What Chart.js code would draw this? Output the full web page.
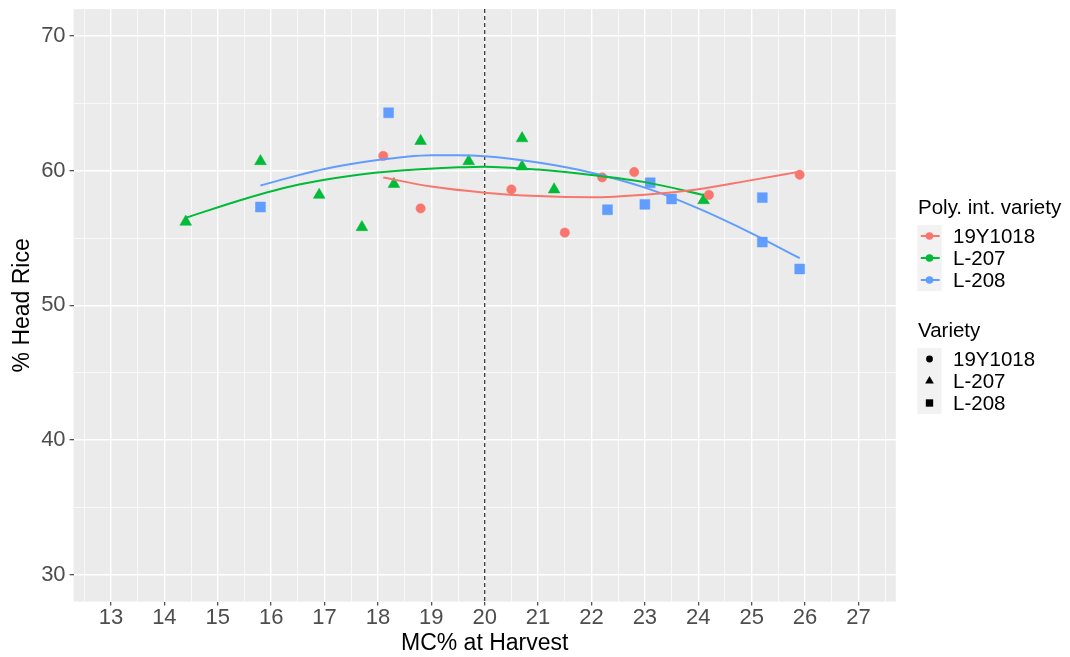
<!DOCTYPE html>
<html>
<head>
<meta charset="utf-8">
<title>Head rice vs. harvest moisture</title>
<script src="https://cdn.jsdelivr.net/npm/chart.js@4.4.1/dist/chart.umd.min.js"></script>
<style>
  html, body { margin: 0; padding: 0; background: #ffffff; }
  #wrap { width: 1070px; height: 657px; position: relative; }
</style>
</head>
<body>
<div id="wrap"><canvas id="chart"></canvas></div>
<script>
// ---- axis tick labels ----
const mcTicks = [13, 14, 15, 16, 17, 18, 19, 20, 21, 22, 23, 24, 25, 26, 27];
const hrTicks = [30, 40, 50, 60, 70];

// ---- varieties ----
const varieties = ['19Y1018', 'L-207', 'L-208'];
const varietyColors = ['#F8766D', '#00BA38', '#619CFF'];
const varietyShapes = ['circle', 'triangle', 'rect'];

// ---- observed head rice (%) by harvest moisture (%) ----
const mc19Y1018 = [18.1, 18.8, 20.5, 21.5, 22.2, 22.8, 24.2, 25.9];
const hr19Y1018 = [61.1, 57.2, 58.6, 55.4, 59.5, 59.9, 58.2, 59.7];

const mcL207 = [14.4, 15.8, 16.9, 17.7, 18.3, 18.8, 19.7, 20.7, 20.7, 21.3, 24.1];
const hrL207 = [56.2, 60.7, 58.2, 55.8, 59.0, 62.2, 60.7, 62.4, 60.3, 58.6, 57.8];

const mcL208 = [15.8, 18.2, 22.3, 23.0, 23.1, 23.5, 25.2, 25.2, 25.9];
const hrL208 = [57.3, 64.3, 57.1, 57.5, 59.1, 57.9, 58.0, 54.7, 52.7];

// ---- polynomial trend per variety (sampled along the curve) ----
const fitMc19Y1018 = [18.1, 19, 20, 21, 22, 23, 24, 25, 25.9];
const fitHr19Y1018 = [59.5, 58.82, 58.37, 58.12, 58.03, 58.22, 58.62, 59.3, 59.93];

const fitMcL207 = [14.4, 15.5, 16.5, 17.5, 18.5, 19.5, 20, 21, 22, 23, 24.1];
const fitHrL207 = [56.5, 57.9, 58.95, 59.63, 60.03, 60.25, 60.3, 60.08, 59.68, 59.15, 58.2];

const fitMcL208 = [15.8, 16.5, 17, 17.5, 18, 18.5, 19, 19.5, 20, 21, 22, 23, 24, 25, 25.9];
const fitHrL208 = [58.9, 59.65, 60.13, 60.5, 60.79, 61.02, 61.14, 61.14, 61.07, 60.6, 59.85, 58.74, 57.2, 55.35, 53.5];

// reference moisture level marked with a dashed line
const cutoffMC = 20;

const FONT = '"Liberation Sans", Arial, Helvetica, sans-serif';

function pairs(xs, ys) { return xs.map((x, i) => ({ x: x, y: ys[i] })); }

// major + half-step minor grid positions
function withMinor(major) {
  const step = major[1] - major[0];
  const out = [];
  major.forEach(v => { out.push(v - step / 2); out.push(v); });
  out.push(major[major.length - 1] + step / 2);
  return out;
}
const xGrid = withMinor(mcTicks);
const yGrid = withMinor(hrTicks);

const obs = [[mc19Y1018, hr19Y1018], [mcL207, hrL207], [mcL208, hrL208]];
const fits = [[fitMc19Y1018, fitHr19Y1018], [fitMcL207, fitHrL207], [fitMcL208, fitHrL208]];
const pointRadius = { circle: 4.7, triangle: 6.8, rect: 7.0 };

const datasets = [];
varieties.forEach((name, i) => {
  datasets.push({
    label: 'Poly. int. variety ' + name,
    data: pairs(fits[i][0], fits[i][1]),
    showLine: true,
    borderColor: varietyColors[i],
    borderWidth: 2,
    pointRadius: 0,
    fill: false,
    cubicInterpolationMode: 'monotone',
    order: 0
  });
  datasets.push({
    label: name,
    data: pairs(obs[i][0], obs[i][1]),
    showLine: false,
    pointStyle: varietyShapes[i],
    pointRadius: pointRadius[varietyShapes[i]],
    backgroundColor: varietyColors[i],
    borderColor: varietyColors[i],
    pointBorderWidth: 0.5,
    order: 1
  });
});

// panel background
const panelBg = {
  id: 'panelBg',
  beforeDraw(chart) {
    const a = chart.chartArea, ctx = chart.ctx;
    ctx.save();
    ctx.fillStyle = '#EBEBEB';
    ctx.fillRect(a.left, a.top, a.right - a.left, a.bottom - a.top);
    ctx.restore();
  }
};

// dashed reference line
const cutoffLine = {
  id: 'cutoffLine',
  beforeDatasetsDraw(chart) {
    const a = chart.chartArea, ctx = chart.ctx;
    const x = chart.scales.x.getPixelForValue(cutoffMC);
    ctx.save();
    ctx.strokeStyle = '#3a3a3a';
    ctx.lineWidth = 1.3;
    ctx.setLineDash([4, 3]);
    ctx.beginPath();
    ctx.moveTo(x, a.top);
    ctx.lineTo(x, a.bottom);
    ctx.stroke();
    ctx.restore();
  }
};

function shape(ctx, style, r, x, y) {
  if (Chart.helpers && Chart.helpers.drawPoint) {
    Chart.helpers.drawPoint(ctx, { pointStyle: style, rotation: 0, radius: r, borderWidth: 0 }, x, y);
    return;
  }
  ctx.beginPath();
  if (style === 'circle') ctx.arc(x, y, r, 0, Math.PI * 2);
  else if (style === 'rect') { const s = r * Math.SQRT1_2; ctx.rect(x - s, y - s, 2 * s, 2 * s); }
  else { ctx.moveTo(x, y - r); ctx.lineTo(x + r * 0.866, y + r / 2); ctx.lineTo(x - r * 0.866, y + r / 2); ctx.closePath(); }
  ctx.fill();
}

// two-part legend: trend lines and point shapes
const sideLegend = {
  id: 'sideLegend',
  afterDraw(chart) {
    const ctx = chart.ctx;
    const tx = 918, keyX = 917.3, keyW = 24.4, keyH = 22, labelX = 953;
    ctx.save();
    ctx.font = '20.5px ' + FONT;
    ctx.textBaseline = 'middle';
    ctx.textAlign = 'left';

    // trend legend
    ctx.fillStyle = '#000';
    ctx.fillText('Poly. int. variety', tx, 208);
    const top1 = 225;
    ctx.fillStyle = '#F2F2F2';
    ctx.fillRect(keyX, top1, keyW, keyH * varieties.length);
    varieties.forEach((name, i) => {
      const cy = top1 + keyH * i + keyH / 2;
      const cx = keyX + keyW / 2;
      ctx.strokeStyle = varietyColors[i];
      ctx.lineWidth = 2;
      ctx.beginPath();
      ctx.moveTo(keyX + 3.5, cy);
      ctx.lineTo(keyX + keyW - 2, cy);
      ctx.stroke();
      ctx.fillStyle = varietyColors[i];
      shape(ctx, 'circle', 3.8, cx, cy);
      ctx.fillStyle = '#000';
      ctx.fillText(name, labelX, cy + 1);
    });

    // shape legend
    ctx.fillStyle = '#000';
    ctx.fillText('Variety', tx, 331);
    const top2 = 348;
    ctx.fillStyle = '#F2F2F2';
    ctx.fillRect(keyX, top2, keyW, keyH * varieties.length);
    const keyR = { circle: 3.4, triangle: 5.0, rect: 5.2 };
    varieties.forEach((name, i) => {
      const cy = top2 + keyH * i + keyH / 2;
      const cx = keyX + keyW / 2;
      ctx.fillStyle = '#000';
      shape(ctx, varietyShapes[i], keyR[varietyShapes[i]], cx, cy);
      ctx.fillText(name, labelX, cy + 1);
    });
    ctx.restore();
  }
};

new Chart(document.getElementById('chart'), {
  type: 'scatter',
  data: { datasets: datasets },
  plugins: [panelBg, cutoffLine, sideLegend],
  options: {
    responsive: true,
    maintainAspectRatio: false,
    animation: false,
    events: [],
    layout: { padding: { left: 0, right: 174.2, top: 9.1, bottom: 0 } },
    plugins: { legend: { display: false }, tooltip: { enabled: false } },
    scales: {
      x: {
        type: 'linear',
        min: 12.3,
        max: 27.7,
        afterBuildTicks: s => { s.ticks = xGrid.map(v => ({ value: v })); },
        afterFit: s => { s.height = 55.4; s.paddingLeft = 0; s.paddingRight = 0; },
        border: { display: false },
        grid: {
          color: '#FFFFFF',
          lineWidth: c => (mcTicks.includes(c.tick.value) ? 1.4 : 0.7),
          drawTicks: true,
          tickLength: 4,
          tickWidth: 1.1,
          tickColor: c => (mcTicks.includes(c.tick.value) ? '#333333' : 'rgba(0,0,0,0)')
        },
        ticks: {
          autoSkip: false,
          maxRotation: 0,
          padding: -1,
          color: '#4D4D4D',
          font: { size: 22, family: FONT },
          callback: v => (mcTicks.includes(v) ? String(v) : '')
        },
        title: {
          display: true,
          text: 'MC% at Harvest',
          color: '#000000',
          font: { size: 23, family: FONT },
          padding: { top: 0, bottom: 0 }
        }
      },
      y: {
        type: 'linear',
        min: 28,
        max: 72,
        afterBuildTicks: s => { s.ticks = yGrid.filter(v => v > 28 && v < 72).map(v => ({ value: v })); },
        afterFit: s => { s.width = 73.6; s.paddingTop = 0; s.paddingBottom = 0; },
        border: { display: false },
        grid: {
          color: '#FFFFFF',
          lineWidth: c => (hrTicks.includes(c.tick.value) ? 1.4 : 0.7),
          drawTicks: true,
          tickLength: 4,
          tickWidth: 1.1,
          tickColor: c => (hrTicks.includes(c.tick.value) ? '#333333' : 'rgba(0,0,0,0)')
        },
        ticks: {
          autoSkip: false,
          padding: 4,
          color: '#4D4D4D',
          font: { size: 22, family: FONT },
          callback: v => (hrTicks.includes(v) ? String(v) : '')
        },
        title: {
          display: true,
          text: '% Head Rice',
          color: '#000000',
          font: { size: 23, family: FONT },
          padding: { top: 8.7, bottom: 0 }
        }
      }
    }
  }
});
</script>
</body>
</html>
